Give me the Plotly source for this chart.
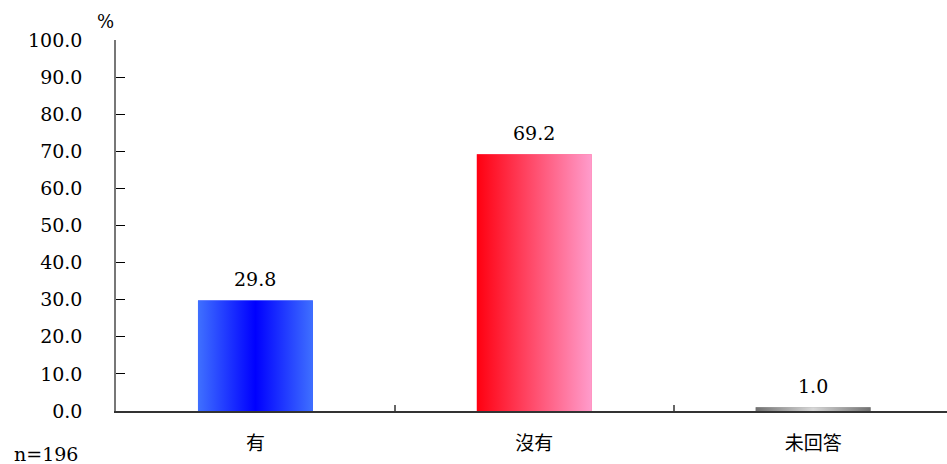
import plotly.graph_objects as go

categories = ["有", "沒有", "未回答"]
values = [29.8, 69.2, 1.0]
value_labels = ["29.8", "69.2", "1.0"]
y_ticks = [0, 10, 20, 30, 40, 50, 60, 70, 80, 90, 100]
y_tick_labels = ["%.1f" % v for v in y_ticks]
sample_note = "n=196"

base_colors = ["#1a3cff", "#ff5a8a", "#a0a0a0"]
gradients = [
    [[0, "#3f70ff"], [0.5, "#0000ff"], [1, "#3f70ff"]],
    [[0, "#ff0010"], [1, "#ff9ccc"]],
    [[0, "#707070"], [0.5, "#d8d8d8"], [1, "#707070"]],
]
bar_width = 0.412
x_range = [-0.5, 2.48]
num_font = "DejaVu Serif, Liberation Serif, serif"
cjk_font = "Noto Sans CJK TC, Noto Sans CJK SC, sans-serif"

fig = go.Figure()
fig.add_trace(go.Bar(x=categories, y=values, width=bar_width,
                     marker=dict(color=base_colors, line=dict(width=0)),
                     hoverinfo="x+y"))

# gradient overlays on a numeric twin axis aligned with the category slots
for i, (v, cs) in enumerate(zip(values, gradients)):
    x0, x1 = i - bar_width / 2, i + bar_width / 2
    fig.add_trace(go.Scatter(
        x=[x0, x1, x1, x0, x0], y=[0, 0, v, v, 0],
        mode="lines", line=dict(width=0), fill="toself",
        fillgradient=dict(type="horizontal", colorscale=cs),
        xaxis="x2", hoverinfo="skip", showlegend=False))

for i, (c, v, t) in enumerate(zip(categories, values, value_labels)):
    fig.add_annotation(x=c, y=v, text=t, showarrow=False, yanchor="bottom",
                       yshift=8, font=dict(family=num_font, size=19, color="#000"))

fig.add_annotation(xref="paper", yref="paper", x=0.0, y=1.0, text="%",
                   showarrow=False, xanchor="right", yanchor="bottom", yshift=6,
                   font=dict(family=num_font, size=18, color="#000"))
fig.add_annotation(xref="paper", yref="paper", x=-0.125, y=-0.082, text=sample_note,
                   showarrow=False, xanchor="left", yanchor="top",
                   font=dict(family=num_font, size=19, color="#000"))

fig.update_layout(
    width=947, height=464,
    margin=dict(l=116, r=0, t=40, b=53),
    plot_bgcolor="white", paper_bgcolor="white",
    showlegend=False,
    xaxis=dict(type="category", range=x_range, tickson="boundaries",
               ticks="inside", ticklen=6, tickcolor="#666", tickwidth=2,
               showline=True, linecolor="#333", linewidth=1.5,
               showgrid=False, zeroline=False,
               tickfont=dict(family=cjk_font, size=19, color="#000"),
               ticklabelstandoff=14),
    xaxis2=dict(overlaying="x", range=x_range, visible=False),
    yaxis=dict(range=[0, 100], tickvals=y_ticks, ticktext=y_tick_labels,
               ticks="inside", ticklen=9, tickcolor="#000",
               showline=True, linecolor="#777", linewidth=1.5,
               showgrid=False, zeroline=False,
               tickfont=dict(family=num_font, size=19, color="#000"),
               ticklabelstandoff=28),
)

fig.write_html("out.html", config={"displayModeBar": False},
               post_script="document.body.style.margin='0';document.body.style.overflow='hidden';")
